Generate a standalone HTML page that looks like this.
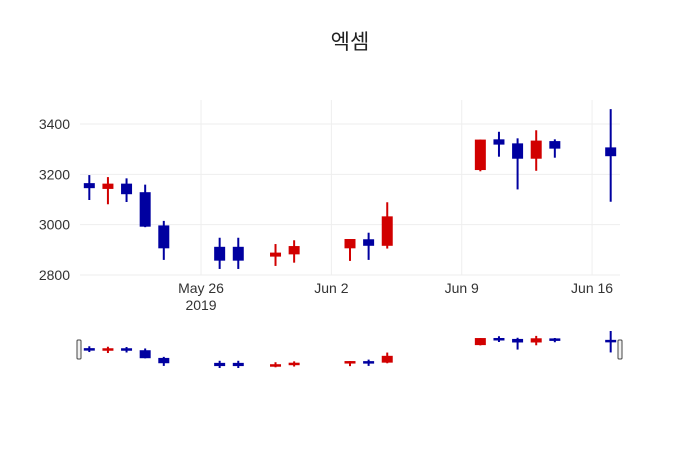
<!DOCTYPE html>
<html><head><meta charset="utf-8"><style>
body{margin:0;background:#fff}
svg text{font-family:"Liberation Sans","Noto Sans CJK KR",sans-serif;fill:#333}
</style></head><body>
<svg id="c" width="700" height="450">
<text x="350" y="49" font-size="21" text-anchor="middle" style="fill:#222">엑셈</text>
<g id="grid"></g><g id="main"></g><g id="slider"></g><g id="axes"></g>
</svg>
<script>
const dates=["2019-05-20","2019-05-21","2019-05-22","2019-05-23","2019-05-24","2019-05-27","2019-05-28","2019-05-30","2019-05-31","2019-06-03","2019-06-04","2019-06-05","2019-06-10","2019-06-11","2019-06-12","2019-06-13","2019-06-14","2019-06-17"];
const openV=[3165,3142,3163,3129,2997,2912,2912,2873,2882,2906,2942,2916,3217,3339,3323,3262,3332,3307];
const highV=[3197,3189,3184,3159,3015,2948,2948,2923,2938,2943,2968,3089,3338,3369,3343,3375,3339,3459];
const lowV=[3098,3081,3090,2990,2860,2824,2824,2836,2849,2856,2860,2905,3212,3270,3140,3214,3266,3091];
const closeV=[3145,3163,3121,2992,2906,2857,2857,2889,2915,2943,2916,3033,3338,3318,3262,3334,3302,3272];
const yTicks=[2800,3000,3200,3400];
const xTicks=["2019-05-26","2019-06-02","2019-06-09","2019-06-16"];
const xTickLabels=["May 26","Jun 2","Jun 9","Jun 16"];
const NS="http://www.w3.org/2000/svg";
const x0=Date.parse("2019-05-19T12:00:00Z"),x1=Date.parse("2019-06-17T12:00:00Z");
const X=d=>80+(Date.parse(d+"T00:00:00Z")-x0)/(x1-x0)*540;
const Y=v=>275-(v-2800)*0.2517;
const lo=Math.min(...lowV),hi=Math.max(...highV);
const YS=v=>331+(hi-v)/(hi-lo)*37;
function mk(p,t,a){const e=document.createElementNS(NS,t);for(const k in a)e.setAttribute(k,a[k]);p.appendChild(e);return e;}
const grid=document.getElementById('grid'),main=document.getElementById('main'),sl=document.getElementById('slider'),ax=document.getElementById('axes');
yTicks.forEach(v=>{
 const l=mk(grid,'line',{x1:80,x2:620,y1:Y(v),y2:Y(v),stroke:'#eee'});
 
 
 const t=mk(ax,'text',{x:70,y:Y(v)+5,'font-size':14,'text-anchor':'end'});t.textContent=v;
 
 
});
xTicks.forEach((d,i)=>{
 const x=X(d);
 const l=mk(grid,'line',{x1:x,x2:x,y1:100,y2:275,stroke:'#eee'});
 
 
 const t=mk(ax,'text',{x:x,y:293,'font-size':14,'text-anchor':'middle'});t.textContent=xTickLabels[i];
 
 
 if(i===0){const t2=mk(ax,'text',{x:x,y:310,'font-size':14,'text-anchor':'middle'});t2.textContent="2019";
 
 }
});
function candle(g,i,yf,bw,ww,name,minH){
 const x=X(dates[i]);const up=closeV[i]>=openV[i];const c=up?'#d10000':'#0000a0';
 const w=mk(g,'line',{x1:x,x2:x,y1:yf(highV[i]),y2:yf(lowV[i]),stroke:c,'stroke-width':ww});
 
 
 const t=yf(Math.max(openV[i],closeV[i])),b=yf(Math.min(openV[i],closeV[i]));
 const r=mk(g,'rect',{x:x-bw/2,y:t,width:bw,height:Math.max(b-t,minH),fill:c});
 
 
}
dates.forEach((d,i)=>{candle(main,i,Y,11,2,'candle',1.5);candle(sl,i,YS,11,2,'slider-candle',2.5);});
[[77,340],[618,340]].forEach(([x,y],i)=>{
 const h=mk(sl,'rect',{x:x,y:y,width:4,height:19,rx:1,fill:'#f2f2f2',stroke:'#444','stroke-width':1});
 
 
});
</script>
</body></html>
